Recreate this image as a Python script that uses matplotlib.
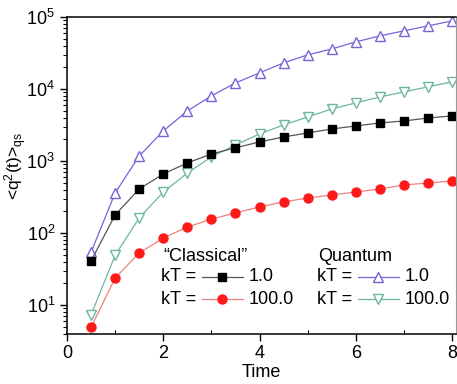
import numpy as np
import matplotlib.pyplot as plt
from matplotlib.lines import Line2D
from matplotlib.ticker import LogLocator, MultipleLocator

plt.rcParams['font.family'] = ['Liberation Sans', 'DejaVu Sans']
plt.rcParams['mathtext.fontset'] = 'custom'
plt.rcParams['mathtext.rm'] = 'Liberation Sans'
plt.rcParams['mathtext.it'] = 'Liberation Sans:italic'

time = [0.5, 1.0, 1.5, 2.0, 2.5, 3.0, 3.5, 4.0, 4.5, 5.0, 5.5, 6.0, 6.5, 7.0, 7.5, 8.0]

classical_kt1 = [41, 178, 408, 660, 937, 1250, 1520, 1840, 2150, 2450, 2780, 3060,
                 3370, 3590, 3950, 4220]
classical_kt100 = [4.9, 23.7, 52.7, 85, 121, 156, 190, 230, 270, 306, 337, 371,
                   408, 464, 494, 527]
quantum_kt1 = [54, 360, 1170, 2610, 4940, 8000, 12100, 16700, 23000, 29700, 35900,
               45000, 54500, 64000, 75000, 88000]
quantum_kt100 = [7.3, 49, 162, 370, 680, 1140, 1670, 2370, 3160, 4080, 5270, 6400,
                 7740, 9090, 10700, 12500]

BLUE = '#7266d9'
TEAL = '#6db5a3'
RED = '#ff1a1a'
FS = 13

fig = plt.figure(figsize=(4.57, 3.84), dpi=100)
ax = fig.add_axes([0.1466, 0.130, 0.851, 0.826])

ax.plot(time, quantum_kt1, '-', color=BLUE, lw=0.9, marker='^', ms=7.5,
        mfc='white', mec=BLUE, mew=1.0)
ax.plot(time, quantum_kt100, '-', color=TEAL, lw=0.9, marker='v', ms=7.5,
        mfc='white', mec=TEAL, mew=1.0)
ax.plot(time, classical_kt1, '-', color='#555555', lw=0.9, marker='s', ms=5.5,
        mfc='black', mec='black')
ax.plot(time, classical_kt100, '-', color='#f08080', lw=0.9, marker='o', ms=6.5,
        mfc=RED, mec=RED)

ax.set_yscale('log')
ax.set_xlim(0, 8.08)
ax.set_ylim(3.95, 1e5)
ax.xaxis.set_major_locator(MultipleLocator(2))
ax.xaxis.set_minor_locator(MultipleLocator(1))
ax.yaxis.set_major_locator(LogLocator(base=10, numticks=10))
ax.yaxis.set_minor_locator(LogLocator(base=10, subs=np.arange(2, 10), numticks=10))

ax.tick_params(axis='both', which='major', direction='out', length=5, width=1,
               labelsize=FS, top=False, right=False)
ax.tick_params(axis='y', which='minor', direction='out', length=3, width=0.8)
ax.tick_params(axis='x', which='minor', direction='in', length=3, width=0.8)
ax.tick_params(axis='x', pad=3)
for s in ['left', 'bottom', 'top']:
    ax.spines[s].set_linewidth(1.1)
ax.spines['right'].set_color('#999999')

ax.set_xlabel('Time', fontsize=FS, labelpad=1)
ax.set_ylabel(r'<q$^2$(t)>$_\mathrm{qs}$', fontsize=FS - 0.5, labelpad=2)
ax.yaxis.set_label_coords(-0.098, 0.53)

# legend, laid out like the original
tr = ax.transAxes
def row(x0, y0, color, marker, mfc, ms, label):
    ax.text(x0, y0, 'kT =', transform=tr, fontsize=FS, va='center', ha='left')
    ax.add_line(Line2D([x0 + 0.105, x0 + 0.21], [y0, y0], transform=tr,
                       color=color, lw=0.9))
    ax.add_line(Line2D([x0 + 0.157], [y0], transform=tr, marker=marker,
                       ms=ms, mfc=mfc, mec=mfc if mfc != 'white' else color,
                       mew=1.0, color=color))
    ax.text(x0 + 0.225, y0, label, transform=tr, fontsize=FS, va='center', ha='left')

ax.text(0.248, 0.246, '\u201cClassical\u201d', transform=tr, fontsize=FS,
        va='center', ha='left')
row(0.242, 0.18, '#555555', 's', 'black', 5.5, '1.0')
row(0.242, 0.11, '#f08080', 'o', RED, 6.5, '100.0')

ax.text(0.645, 0.246, 'Quantum', transform=tr, fontsize=FS, va='center', ha='left')
row(0.643, 0.18, BLUE, '^', 'white', 7, '1.0')
row(0.643, 0.11, TEAL, 'v', 'white', 7, '100.0')

fig.savefig('out.png', dpi=100)
